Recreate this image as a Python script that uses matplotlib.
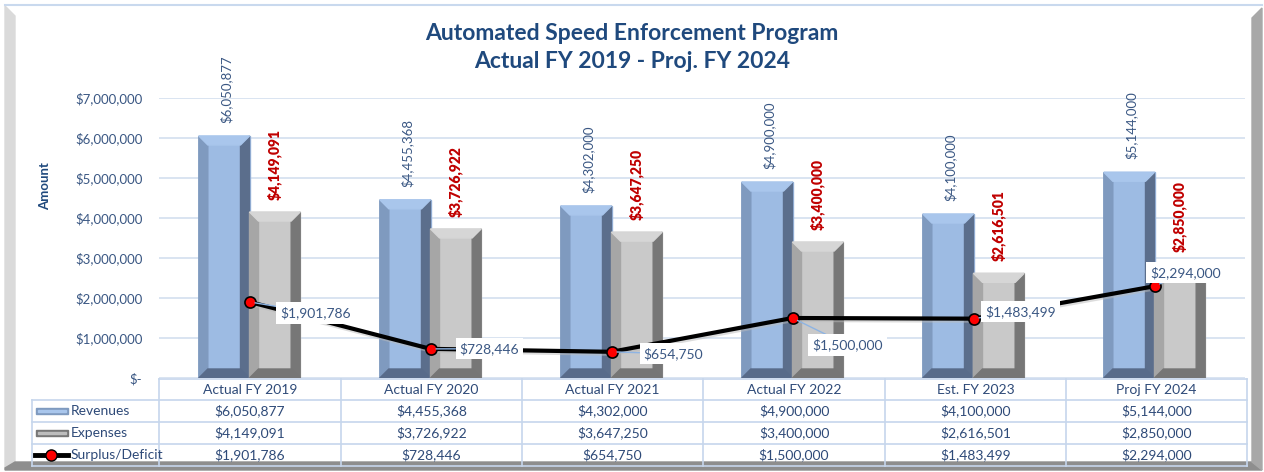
import matplotlib.pyplot as plt
from matplotlib.patches import Polygon, Rectangle
from matplotlib.lines import Line2D
from matplotlib.transforms import ScaledTranslation

# data
categorias = ['Actual FY 2019', 'Actual FY 2020', 'Actual FY 2021',
              'Actual FY 2022', 'Est. FY 2023', 'Proj FY 2024']
revenues = [6050877, 4455368, 4302000, 4900000, 4100000, 5144000]
expenses = [4149091, 3726922, 3647250, 3400000, 2616501, 2850000]
surplus = [1901786, 728446, 654750, 1500000, 1483499, 2294000]
# offsets (px) of the surplus value boxes
label_off = [(66, -11), (59, 0), (62, -2), (55, -27), (47, 7), (31, 14)]

W, H = 1264, 472
fig = plt.figure(figsize=(W / 100, H / 100), dpi=100)
plt.rcParams['font.family'] = ['Lato', 'DejaVu Sans']

azul_txt = '#3A5783'
tabla_txt = '#2E4A78'
borde = '#C6D6EC'


def fx(x):
    return x / W


def fy(y):
    return 1 - y / H


# marco del grafico (efecto bisel)
fig.add_artist(Polygon([(fx(5), fy(6)), (fx(15), fy(16)), (fx(15), fy(462)), (fx(5), fy(468))],
                       closed=True, color='#DADADA', transform=fig.transFigure))
fig.add_artist(Polygon([(fx(5), fy(468)), (fx(15), fy(462)), (fx(1252), fy(462)), (fx(1262), fy(470)), (fx(5), fy(470))],
                       closed=True, color='#8E8E8E', transform=fig.transFigure))
fig.add_artist(Polygon([(fx(1252), fy(18)), (fx(1262), fy(8)), (fx(1262), fy(470)), (fx(1252), fy(462))],
                       closed=True, color='#A8A8A8', transform=fig.transFigure))
fig.add_artist(Line2D([fx(5), fx(1262)], [fy(5), fy(5)], color='#C9D9EE', lw=1.5,
                      transform=fig.transFigure))

ax = fig.add_axes([fx(159), fy(378), 1086 / W, 280 / H])
ax.set_xlim(-0.5, 5.5)
ax.set_ylim(0, 7000000)
for s in ax.spines.values():
    s.set_visible(False)
ax.set_yticks(range(0, 7000001, 1000000))
ax.set_yticklabels(['$-'] + ['${:,.0f}'.format(v) for v in range(1000000, 7000001, 1000000)],
                   color=azul_txt, fontsize=9.5)
ax.tick_params(axis='y', length=0, pad=12)
ax.set_xticks([])
ax.grid(axis='y', color='#D3DFEF', lw=1.2)
ax.set_axisbelow(True)

px_x = 6 / 1086.0   # data units per pixel
px_y = 7000000 / 280.0


def barra_bisel(xc, w, h, cara, izq, der, arriba, abajo, b=9):
    bx = b * px_x
    by = min(b * px_y, h / 2)
    x0, x1 = xc - w / 2, xc + w / 2
    ax.add_patch(Rectangle((x0, 0), w, h, color=cara, zorder=2))
    ax.add_patch(Polygon([(x0, 0), (x0 + bx, by), (x0 + bx, h - by), (x0, h)], color=izq, zorder=2))
    ax.add_patch(Polygon([(x1, 0), (x1 - bx, by), (x1 - bx, h - by), (x1, h)], color=der, zorder=2))
    ax.add_patch(Polygon([(x0, h), (x0 + bx, h - by), (x1 - bx, h - by), (x1, h)], color=arriba, zorder=2))
    ax.add_patch(Polygon([(x0, 0), (x0 + bx, by), (x1 - bx, by), (x1, 0)], color=abajo, zorder=2))


ancho = 0.28
for i in range(len(categorias)):
    barra_bisel(i - 0.14, ancho, revenues[i], '#9DBBE3', '#7F9ABF', '#5B6E8C', '#A9C6EC', '#586B8A')
    barra_bisel(i + 0.14, ancho, expenses[i], '#C9C9C9', '#A6A6A6', '#777777', '#D6D6D6', '#767676')
    ax.annotate('${:,.0f}'.format(revenues[i]), (i - 0.13, revenues[i]), xytext=(0, 13),
                textcoords='offset pixels', rotation=90, ha='center', va='bottom',
                color=azul_txt, fontsize=9.5, annotation_clip=False)
    ax.annotate('${:,.0f}'.format(expenses[i]), (i + 0.14, expenses[i]), xytext=(0, 12),
                textcoords='offset pixels', rotation=90, ha='center', va='bottom',
                color='#C00000', fontsize=10, fontweight='heavy', annotation_clip=False)

xs = list(range(len(categorias)))
ax.plot(xs, surplus, color='#BBBBBB', lw=3, alpha=0.5, zorder=3,
        transform=ax.transData + ScaledTranslation(1 / 100, -2 / 100, fig.dpi_scale_trans))
ax.plot(xs, surplus, color='black', lw=3, zorder=4, marker='o', markersize=8,
        markerfacecolor='#FF0000', markeredgecolor='black', markeredgewidth=1.2)
for i, v in enumerate(surplus):
    ax.annotate('${:,.0f}'.format(v), (i, v), xytext=label_off[i], textcoords='offset pixels',
                ha='center', va='center', color=azul_txt, fontsize=10, zorder=5,
                bbox=dict(boxstyle='square,pad=0.3', fc='white', ec='none'),
                arrowprops=dict(arrowstyle='-', color='#8EB4E3', lw=1, shrinkA=0, shrinkB=4))

# titulo y eje
fig.text(fx(632), fy(33), 'Automated Speed Enforcement Program', ha='center', va='center',
         fontsize=16.5, fontweight='bold', color='#1F497D')
fig.text(fx(632), fy(62), 'Actual FY 2019 - Proj. FY 2024', ha='center', va='center',
         fontsize=16.5, fontweight='bold', color='#1F497D')
fig.text(fx(45), fy(186), 'Amount', rotation=90, ha='center', va='center',
         fontsize=9.5, fontweight='bold', color='#1F497D')

# tabla de datos
cols = [159, 341, 522, 703, 885, 1066, 1247]
filas = [379, 400, 422, 444, 466]


def linea(x0, x1, y0, y1):
    fig.add_artist(Line2D([fx(x0), fx(x1)], [fy(y0), fy(y1)], color=borde, lw=1.2,
                          transform=fig.transFigure))


linea(159, 1247, filas[0], filas[0])
for y in filas[1:]:
    linea(32, 1247, y, y)
for x in cols:
    linea(x, x, filas[0], filas[-1])
linea(32, 32, filas[1], filas[-1])

series = [revenues, expenses, surplus]
nombres = ['Revenues', 'Expenses', 'Surplus/Deficit']
for j in range(6):
    xc = (cols[j] + cols[j + 1]) / 2
    fig.text(fx(xc), fy((filas[0] + filas[1]) / 2), categorias[j], ha='center', va='center',
             fontsize=10, color=tabla_txt)
    for r in range(3):
        fig.text(fx(xc), fy((filas[r + 1] + filas[r + 2]) / 2), '${:,.0f}'.format(series[r][j]),
                 ha='center', va='center', fontsize=10, color=tabla_txt)

for r in range(3):
    yc = (filas[r + 1] + filas[r + 2]) / 2
    fig.text(fx(71), fy(yc), nombres[r], ha='left', va='center', fontsize=10, color=tabla_txt)

# claves de leyenda
yc1 = (filas[1] + filas[2]) / 2 + 3
fig.add_artist(Rectangle((fx(36), fy(yc1)), 32 / W, 6 / H, color='#7F9ABF', transform=fig.transFigure))
fig.add_artist(Rectangle((fx(38), fy(yc1 - 2)), 28 / W, 2 / H, color='#A9C6EC', transform=fig.transFigure))
yc2 = (filas[2] + filas[3]) / 2 + 3
fig.add_artist(Rectangle((fx(36), fy(yc2)), 32 / W, 6 / H, color='#777777', transform=fig.transFigure))
fig.add_artist(Rectangle((fx(38), fy(yc2 - 2)), 28 / W, 2 / H, color='#BDBDBD', transform=fig.transFigure))
yc3 = (filas[3] + filas[4]) / 2
fig.add_artist(Line2D([fx(35), fx(68)], [fy(yc3), fy(yc3)], color='black', lw=3.5,
                      transform=fig.transFigure))
fig.add_artist(Line2D([fx(51)], [fy(yc3)], color='black', lw=0, marker='o', markersize=8,
                      markerfacecolor='#FF0000', markeredgecolor='black', transform=fig.transFigure))

fig.savefig('out.png', dpi=100)
